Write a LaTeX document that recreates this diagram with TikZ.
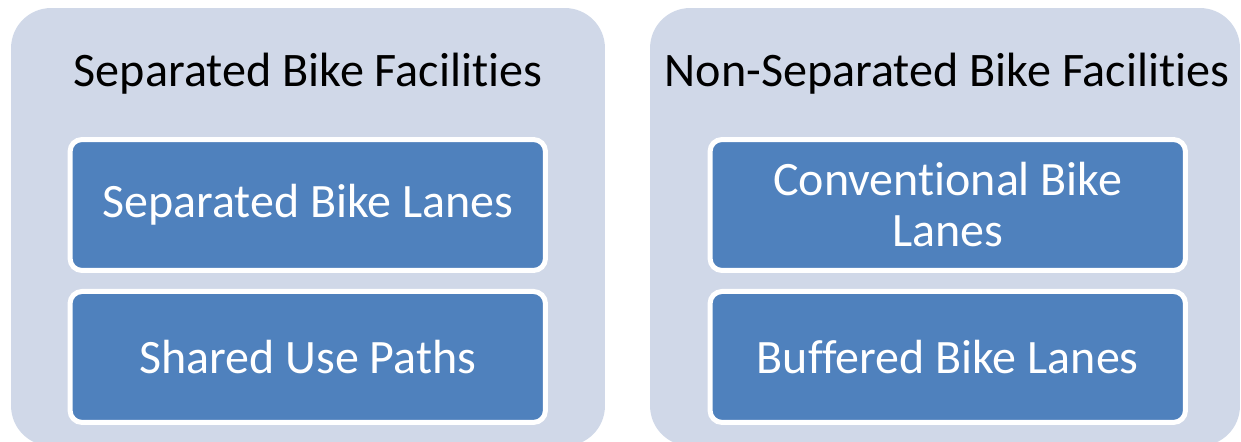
\documentclass[tikz,border=0pt]{standalone}
\usepackage{fontspec}
\setmainfont{Carlito}[Ligatures=NoCommon]
\usepackage{tikz}
\usetikzlibrary{positioning}

\definecolor{panelgray}{HTML}{D0D8E8}
\definecolor{laneblue}{HTML}{4F81BD}

\begin{document}
\begin{tikzpicture}[x=0.02cm,y=-0.02cm]

	\tikzset{
		panel/.style={
				rectangle, rounded corners=0.8cm, fill=panelgray, draw=none, inner sep=0pt
			},
		heading/.style={
				anchor=base, inner sep=0pt, font=\fontsize{27.4}{29}\selectfont
			},
		lane/.style={
				rectangle, rounded corners=0.24cm, fill=laneblue, draw=white, line width=0.1cm,
				minimum width=9.51cm, minimum height=2.62cm, inner sep=0pt,
				text=white, align=center, font=\fontsize{27.3}{29}\selectfont
			},
	}
	\useasboundingbox (0,0) rectangle (1241,442);

	\node[panel, minimum width=11.88cm, minimum height=8.76cm](sep) at (308,227){};
	\node[panel, minimum width=11.8cm, minimum height=8.76cm](nonsep) at (945,227){};

	\node[heading](t1) at (308,87){Separated Bike Facilities};
	\node[heading](t2) at (947,87){Non-Separated Bike Facilities};

	\node[lane](sbl) at (307.75,205){Separated Bike Lanes};
	\node[lane, below=0.32cm of sbl](sup){Shared Use Paths};
	\node[lane](cbl) at (947.75,205){Conventional Bike\\Lanes};
	\node[lane, below=0.32cm of cbl](bbl){Buffered Bike Lanes};

\end{tikzpicture}
\end{document}
